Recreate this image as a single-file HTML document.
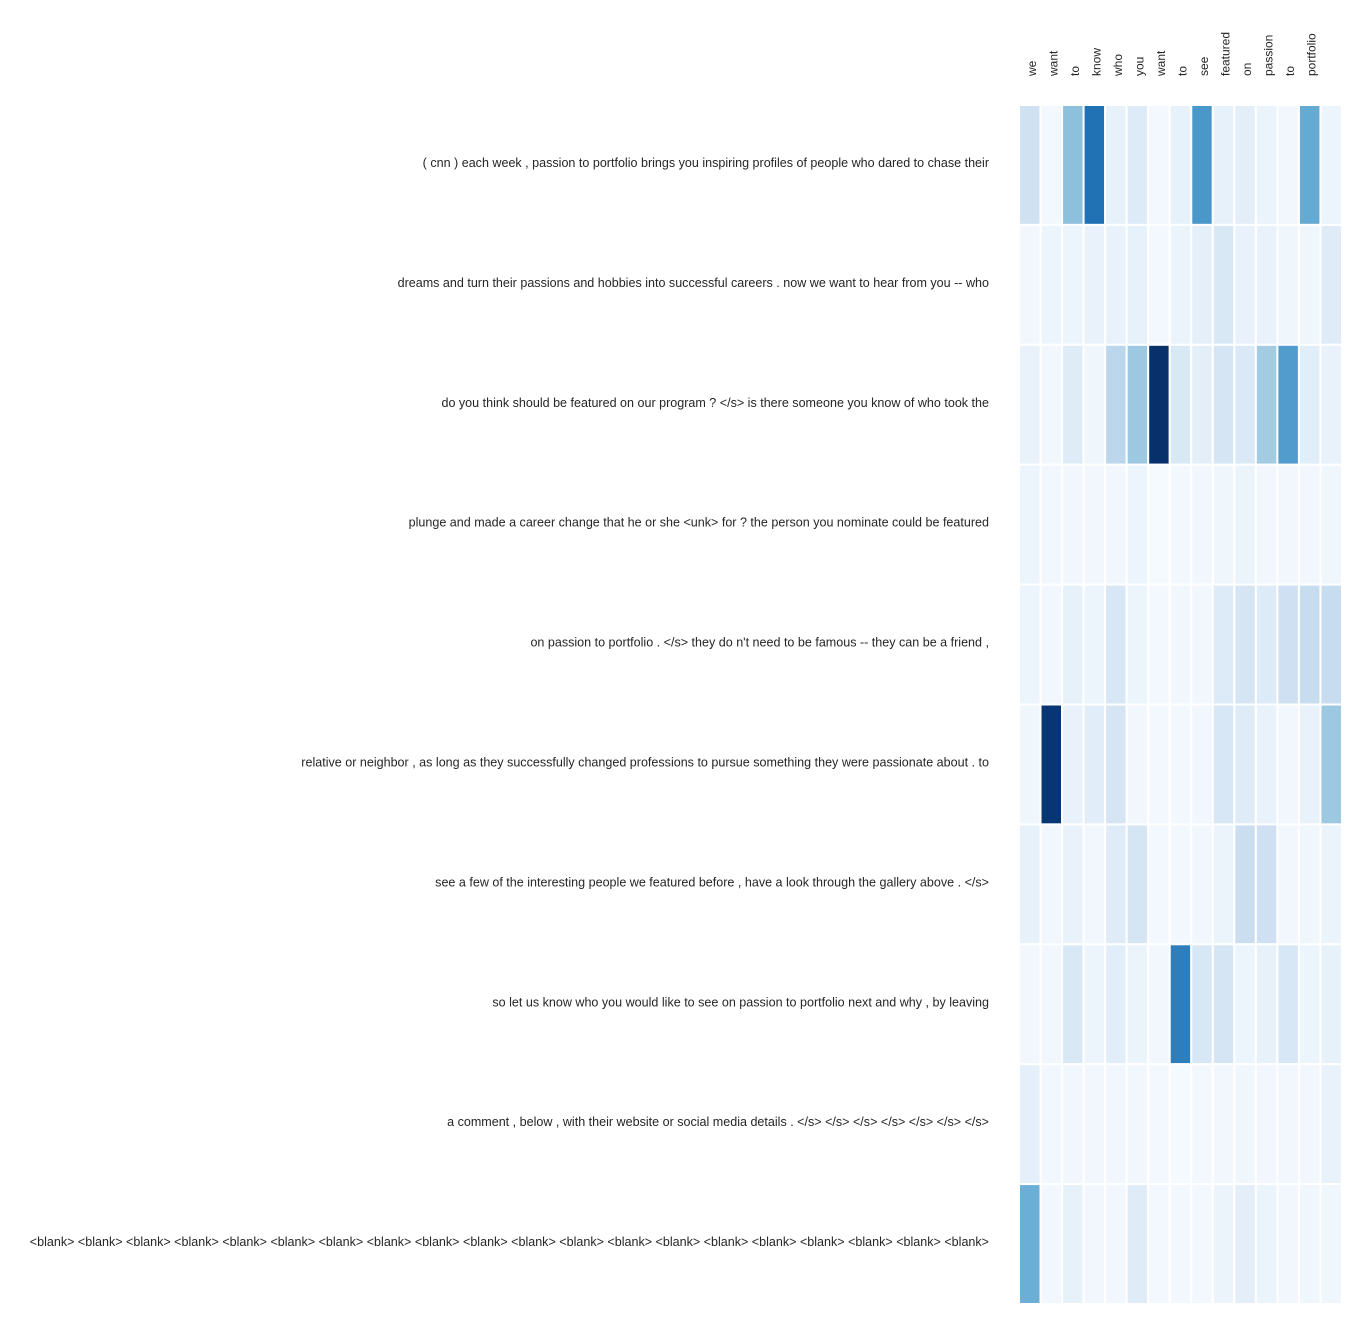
<!DOCTYPE html>
<html><head><meta charset="utf-8">
<style>
html,body{margin:0;padding:0;background:#fff;}
svg{display:block;font-family:"Liberation Sans",sans-serif;}
</style></head>
<body>
<svg id="chart" width="1372" height="1334"></svg>
<script>
const colLabels = ["we","want","to","know","who","you","want","to","see","featured","on","passion","to","portfolio",""];
const rowLabels = [
"( cnn ) each week , passion to portfolio brings you inspiring profiles of people who dared to chase their",
"dreams and turn their passions and hobbies into successful careers . now we want to hear from you -- who",
"do you think should be featured on our program ? </s> is there someone you know of who took the",
"plunge and made a career change that he or she <unk> for ? the person you nominate could be featured",
"on passion to portfolio . </s> they do n't need to be famous -- they can be a friend ,",
"relative or neighbor , as long as they successfully changed professions to pursue something they were passionate about . to",
"see a few of the interesting people we featured before , have a look through the gallery above . </s>",
"so let us know who you would like to see on passion to portfolio next and why , by leaving",
"a comment , below , with their website or social media details . </s> </s> </s> </s> </s> </s> </s>",
"<blank> <blank> <blank> <blank> <blank> <blank> <blank> <blank> <blank> <blank> <blank> <blank> <blank> <blank> <blank> <blank> <blank> <blank> <blank> <blank>"
];
const row0 = [0.2,0.02,0.42,0.75,0.08,0.13,0.02,0.08,0.6,0.08,0.1,0.06,0.03,0.52,0.05];
const row1 = [0.03,0.05,0.05,0.07,0.07,0.08,0.02,0.06,0.09,0.15,0.07,0.07,0.04,0.04,0.12];
const row2 = [0.07,0.03,0.12,0.04,0.28,0.38,1.0,0.15,0.1,0.17,0.14,0.36,0.58,0.11,0.07];
const row3 = [0.05,0.03,0.03,0.03,0.03,0.05,0.01,0.02,0.03,0.04,0.06,0.03,0.03,0.03,0.04];
const row4 = [0.05,0.03,0.08,0.05,0.16,0.05,0.02,0.03,0.03,0.13,0.17,0.13,0.21,0.24,0.24];
const row5 = [0.04,0.98,0.07,0.11,0.17,0.03,0.02,0.02,0.03,0.16,0.12,0.07,0.03,0.07,0.38];
const row6 = [0.08,0.03,0.07,0.03,0.12,0.17,0.02,0.02,0.03,0.06,0.23,0.21,0.03,0.04,0.06];
const row7 = [0.03,0.03,0.15,0.05,0.11,0.06,0.03,0.7,0.16,0.17,0.05,0.08,0.16,0.05,0.08];
const row8 = [0.09,0.03,0.03,0.03,0.03,0.03,0.02,0.01,0.02,0.03,0.04,0.03,0.03,0.03,0.07];
const row9 = [0.5,0.03,0.08,0.03,0.03,0.12,0.02,0.02,0.02,0.06,0.1,0.06,0.03,0.04,0.04];
const values = [row0,row1,row2,row3,row4,row5,row6,row7,row8,row9];

const NS="http://www.w3.org/2000/svg";
const svg=document.getElementById('chart');
const x0=1019,x1=1342,y0=105,y1=1304;
const cw=(x1-x0)/colLabels.length, rh=(y1-y0)/rowLabels.length;
const xPos=i=>x0+i*cw, yPos=j=>y0+j*rh;
const stops=["#f7fbff","#deebf7","#c6dbef","#9ecae1","#6baed6","#4292c6","#2171b5","#08519c","#08306b"];
function hex(h){return [1,3,5].map(k=>parseInt(h.substr(k,2),16));}
function color(v){v=Math.max(0,Math.min(1,v));const t=v*8,i=Math.min(7,Math.floor(t)),f=t-i;
 const a=hex(stops[i]),b=hex(stops[i+1]);return "rgb("+a.map((c,k)=>Math.round(c+(b[k]-c)*f)).join(",")+")";}

values.forEach((row,j)=>{
  row.forEach((v,i)=>{
    const r=document.createElementNS(NS,'rect');
    r.setAttribute('x',xPos(i));r.setAttribute('y',yPos(j));
    r.setAttribute('width',cw);r.setAttribute('height',rh);
    r.setAttribute('fill',color(v));r.setAttribute('stroke','#fff');r.setAttribute('stroke-width','2');
    
    
    svg.appendChild(r);
  });
});
rowLabels.forEach((s,j)=>{
  const t=document.createElementNS(NS,'text');
  t.setAttribute('x',989);t.setAttribute('y',yPos(j)+rh/2+2);
  t.setAttribute('text-anchor','end');t.setAttribute('font-size','12.55');t.setAttribute('fill','#262626');
  t.textContent=s;
  
  
  svg.appendChild(t);
});
colLabels.forEach((s,i)=>{
  if(!s)return;
  const cx=xPos(i)+cw/2+6, cy=76;
  const t=document.createElementNS(NS,'text');
  t.setAttribute('x',cx);t.setAttribute('y',cy);
  t.setAttribute('transform','rotate(-90 '+cx+' '+cy+')');
  t.setAttribute('font-size','12');t.setAttribute('fill','#262626');
  t.textContent=s;
  
  
  svg.appendChild(t);
});
</script>
</body></html>
